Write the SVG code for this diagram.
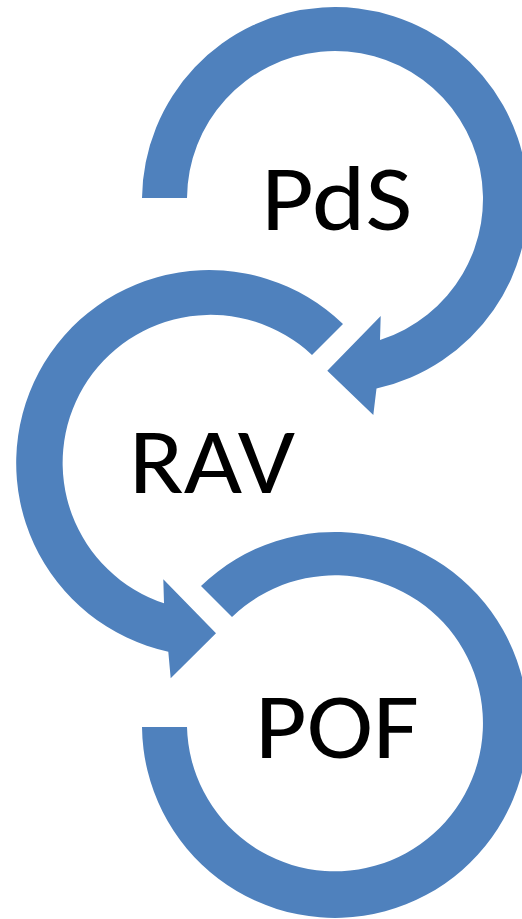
<svg xmlns="http://www.w3.org/2000/svg" width="522" height="919" viewBox="0 0 522 919">
  <style>
    .arc { fill: #4F81BD; stroke: none; }
    .lbl { font-family: Carlito, Calibri, Lato, "Noto Sans", sans-serif; font-size: 93px; fill: #000000; text-anchor: middle; }
  </style>
  <rect width="522" height="919" fill="#FFFFFF"/>
  <g id="node-pds">
    <path class="arc" d="M 142,198 A 193 193 0 1 1 376.5,388.5 L 373.3,415 L 327.3,370.7 L 380.7,316 L 380,340 A 148 148 0 1 0 187,198 Z"/>
    <text class="lbl" x="336.7" y="229.5" textLength="151" lengthAdjust="spacingAndGlyphs">PdS</text>
  </g>
  <g id="node-rav">
    <path class="arc" d="M 343,324 A 193 193 0 1 0 168.3,651.7 L 170.7,678.3 L 216,633.3 L 163.3,579.3 L 164,603.3 A 148 148 0 1 1 312,355 Z"/>
    <text class="lbl" x="212" y="492.7" textLength="166" lengthAdjust="spacingAndGlyphs">RAV</text>
  </g>
  <g id="node-pof">
    <path class="arc" d="M 201,586 A 193 193 0 1 1 142,727 L 187,727 A 148 148 0 1 0 232,617 Z"/>
    <text class="lbl" x="337" y="758.3" textLength="164" lengthAdjust="spacingAndGlyphs">POF</text>
  </g>
  <g id="connectors"></g>
</svg>
